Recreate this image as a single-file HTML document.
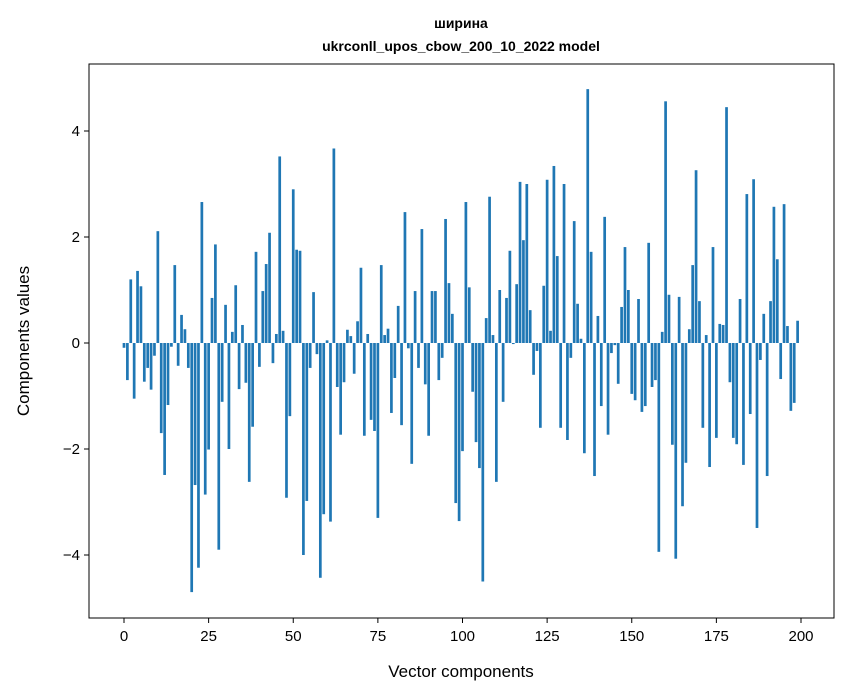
<!DOCTYPE html>
<html><head><meta charset="utf-8"><style>
html,body{margin:0;padding:0;background:#fff;}
svg{display:block;font-family:"Liberation Sans","DejaVu Sans",sans-serif;}
</style></head><body>
<svg id="chart" width="847" height="696" viewBox="0 0 847 696" xmlns="http://www.w3.org/2000/svg">
<rect x="0" y="0" width="847" height="696" fill="#fff"/>
<text x="461" y="28" text-anchor="middle" font-size="14" font-weight="bold">ширина</text>
<text x="461" y="51" text-anchor="middle" font-size="14" font-weight="bold">ukrconll_upos_cbow_200_10_2022 model</text>
<g id="bars"></g>
<g id="xticks"></g>
<g id="yticks"></g>
<rect x="89" y="64" width="745" height="554" fill="none" stroke="#000" stroke-width="1"/>
<text x="461" y="677" text-anchor="middle" font-size="17">Vector components</text>
<text transform="translate(29,341) rotate(-90)" text-anchor="middle" font-size="17">Components values</text>
</svg>
<script>
const values = [-0.09,-0.7,1.2,-1.05,1.36,1.07,-0.73,-0.47,-0.88,-0.24,
2.11,-1.7,-2.49,-1.17,-0.07,1.47,-0.43,0.53,0.26,-0.47,
-4.7,-2.68,-4.24,2.66,-2.86,-2.01,0.85,1.86,-3.9,-1.11,
0.72,-2.0,0.21,1.09,-0.87,0.34,-0.75,-2.62,-1.58,1.72,
-0.45,0.98,1.49,2.08,-0.38,0.17,3.52,0.23,-2.92,-1.38,
2.9,1.76,1.74,-4.0,-2.98,-0.47,0.96,-0.21,-4.43,-3.23,
0.05,-3.37,3.67,-0.83,-1.73,-0.74,0.25,0.13,-0.58,0.41,
1.42,-1.75,0.17,-1.45,-1.66,-3.3,1.47,0.15,0.27,-1.32,
-0.66,0.7,-1.55,2.47,-0.1,-2.28,0.98,-0.47,2.15,-0.78,
-1.75,0.98,0.98,-0.7,-0.28,2.34,1.13,0.55,-3.02,-3.36,
-2.04,2.66,1.05,-0.92,-1.87,-2.36,-4.5,0.47,2.76,0.15,
-2.62,1.0,-1.11,0.85,1.74,-0.02,1.11,3.04,1.94,3.0,
0.62,-0.6,-0.15,-1.6,1.08,3.08,0.23,3.34,1.64,-1.6,
3.0,-1.83,-0.28,2.3,0.74,0.08,-2.08,4.79,1.72,-2.51,
0.51,-1.19,2.38,-1.73,-0.19,-0.04,-0.77,0.68,1.81,1.0,
-0.96,-1.08,0.83,-1.3,-1.19,1.89,-0.83,-0.7,-3.94,0.21,
4.56,0.91,-1.92,-4.07,0.87,-3.08,-2.26,0.26,1.47,3.26,
0.79,-1.6,0.15,-2.34,1.81,-1.79,0.36,0.34,4.45,-0.74,
-1.79,-1.91,0.83,-2.3,2.81,-1.34,3.09,-3.49,-0.32,0.55,
-2.51,0.79,2.57,1.58,-0.68,2.62,0.32,-1.28,-1.13,0.42];
const xTicks = [0,25,50,75,100,125,150,175,200];
const yTicks = [-4,-2,0,2,4];
const yTickLabels = ["\u22124","\u22122","0","2","4"];

const NS = "http://www.w3.org/2000/svg";
const xScale = v => 124 + v * 3.385;
const yScale = v => 343 - v * 53;
const barsG = document.getElementById('bars');
values.forEach((v, i) => {
  const r = document.createElementNS(NS, 'rect');
  const y0 = yScale(Math.max(v, 0)), y1 = yScale(Math.min(v, 0));
  r.setAttribute('x', xScale(i - 0.4));
  r.setAttribute('y', y0);
  r.setAttribute('width', 0.8 * 3.385);
  r.setAttribute('height', Math.max(y1 - y0, 0.3));
  r.setAttribute('fill', '#1f77b4');
  
  
  barsG.appendChild(r);
});
const xg = document.getElementById('xticks');
xTicks.forEach(t => {
  const x = xScale(t);
  const l = document.createElementNS(NS, 'line');
  l.setAttribute('x1', x); l.setAttribute('x2', x);
  l.setAttribute('y1', 618); l.setAttribute('y2', 623);
  l.setAttribute('stroke', '#000');
  
  
  xg.appendChild(l);
  const tx = document.createElementNS(NS, 'text');
  tx.setAttribute('x', x); tx.setAttribute('y', 641);
  tx.setAttribute('text-anchor', 'middle');
  tx.setAttribute('font-size', '15');
  tx.textContent = String(t);
  
  
  xg.appendChild(tx);
});
const yg = document.getElementById('yticks');
yTicks.forEach((t, k) => {
  const y = yScale(t);
  const l = document.createElementNS(NS, 'line');
  l.setAttribute('x1', 84); l.setAttribute('x2', 89);
  l.setAttribute('y1', y); l.setAttribute('y2', y);
  l.setAttribute('stroke', '#000');
  
  
  yg.appendChild(l);
  const tx = document.createElementNS(NS, 'text');
  tx.setAttribute('x', 80); tx.setAttribute('y', y + 5);
  tx.setAttribute('text-anchor', 'end');
  tx.setAttribute('font-size', '15');
  tx.textContent = yTickLabels[k];
  
  
  yg.appendChild(tx);
});
</script>
</body></html>
